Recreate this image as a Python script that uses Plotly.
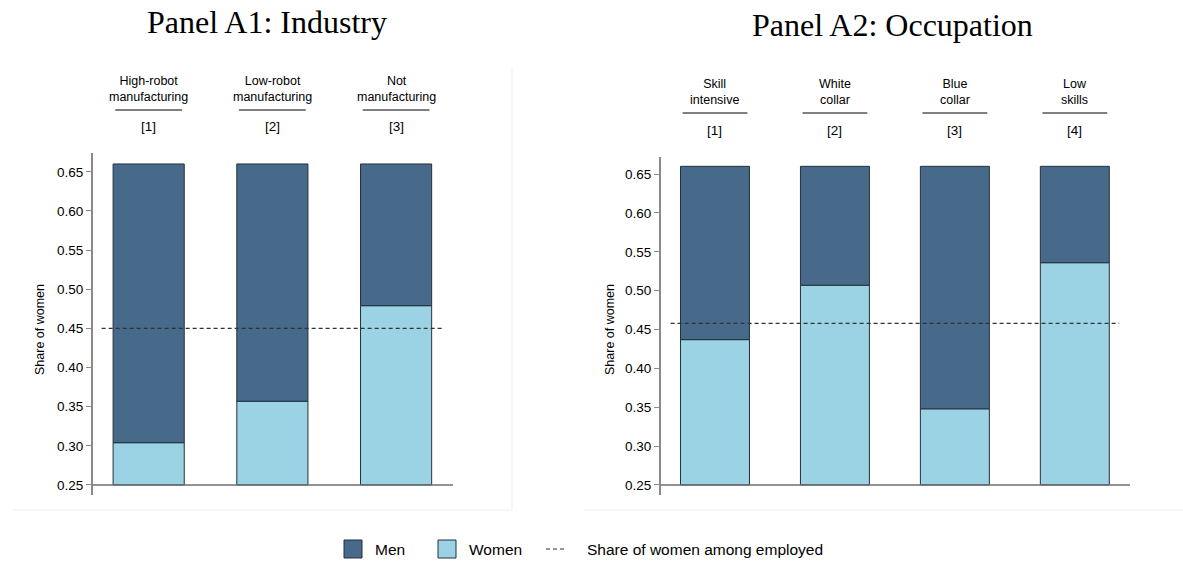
import plotly.graph_objects as go

# ---- data -------------------------------------------------------------
industry_labels = ["High-robot<br>manufacturing", "Low-robot<br>manufacturing", "Not<br>manufacturing"]
industry_cols = ["[1]", "[2]", "[3]"]
industry_women = [0.304, 0.357, 0.479]
industry_avg = 0.450

occupation_labels = ["Skill<br>intensive", "White<br>collar", "Blue<br>collar", "Low<br>skills"]
occupation_cols = ["[1]", "[2]", "[3]", "[4]"]
occupation_women = [0.437, 0.507, 0.348, 0.536]
occupation_avg = 0.458

y_ticks = [0.25, 0.30, 0.35, 0.40, 0.45, 0.50, 0.55, 0.60, 0.65]
y_floor = 0.25
y_cap = 0.66

# ---- style ------------------------------------------------------------
W, H = 1183, 563
MEN = "#486a8a"
WOMEN = "#9bd3e5"
EDGE = "#22313c"
AXIS = "#8a8a8a"
SANS = "Liberation Sans, Arial, sans-serif"
SERIF = "Liberation Serif, Times New Roman, serif"


def py(px):
    """pixel row -> paper y"""
    return 1 - px / H


fig = go.Figure()

panels = [
    dict(xa="x", ya="y", labels=industry_labels, cols=industry_cols,
         women=industry_women, avg=industry_avg, dx=0.38, hdr=0,
         title="Panel A1: Industry", tx=267, ty=22),
    dict(xa="x2", ya="y2", labels=occupation_labels, cols=occupation_cols,
         women=occupation_women, avg=occupation_avg, dx=0.37, hdr=3,
         title="Panel A2: Occupation", tx=892, ty=25),
]

annotations = []
shapes = []

for p in panels:
    n = len(p["women"])
    xs = list(range(n))
    women = p["women"]
    fig.add_trace(go.Bar(
        x=xs, y=[w - y_floor for w in women], base=[y_floor] * n,
        width=0.575, marker=dict(color=WOMEN, line=dict(color=EDGE, width=1)),
        xaxis=p["xa"], yaxis=p["ya"], showlegend=False, hoverinfo="skip"))
    fig.add_trace(go.Bar(
        x=xs, y=[y_cap - w for w in women], base=women,
        width=0.575, marker=dict(color=MEN, line=dict(color=EDGE, width=1)),
        xaxis=p["xa"], yaxis=p["ya"], showlegend=False, hoverinfo="skip"))
    fig.add_trace(go.Scatter(
        x=[-p["dx"], n - 1 + p["dx"]], y=[p["avg"], p["avg"]], mode="lines",
        line=dict(color="#333333", width=1.2, dash="4px,3px"),
        xaxis=p["xa"], yaxis=p["ya"], showlegend=False, hoverinfo="skip"))

    # baseline at the floor of the axis
    shapes.append(dict(type="line", xref=p["xa"] + " domain", x0=0, x1=1,
                       yref=p["ya"], y0=y_floor, y1=y_floor,
                       line=dict(color="#6e6e6e", width=1.5)))

    # column headers
    h = p["hdr"]
    for i, (lab, col) in enumerate(zip(p["labels"], p["cols"])):
        annotations.append(dict(x=i, xref=p["xa"], y=py(89 + h), yref="paper",
                                text=lab, showarrow=False, xanchor="center", yanchor="middle",
                                font=dict(family=SANS, size=12.5, color="black")))
        shapes.append(dict(type="line", xref=p["xa"], x0=i - 0.27, x1=i + 0.27,
                           yref="paper", y0=py(110 + h), y1=py(110 + h),
                           line=dict(color="black", width=1)))
        annotations.append(dict(x=i, xref=p["xa"], y=py(127 + h), yref="paper",
                                text=col, showarrow=False, xanchor="center", yanchor="middle",
                                font=dict(family=SANS, size=13.5, color="black")))

    annotations.append(dict(x=p["tx"] / W, xref="paper", y=py(p["ty"]), yref="paper",
                            text=p["title"], showarrow=False, xanchor="center",
                            yanchor="middle",
                            font=dict(family=SERIF, size=32, color="black")))

# y-axis titles
for xpx in (40, 610):
    annotations.append(dict(x=xpx / W, xref="paper", y=py(330), yref="paper",
                            text="Share of women", textangle=-90, showarrow=False,
                            xanchor="center", yanchor="middle",
                            font=dict(family=SANS, size=12.5, color="black")))

# faint panel frames
frame = dict(color="#edf1f1", width=1)
shapes += [
    dict(type="line", xref="paper", yref="paper", x0=512 / W, x1=512 / W,
         y0=py(67), y1=py(510), line=frame),
    dict(type="line", xref="paper", yref="paper", x0=13 / W, x1=512 / W,
         y0=py(510), y1=py(510), line=frame),
    dict(type="line", xref="paper", yref="paper", x0=584 / W, x1=1,
         y0=py(510), y1=py(510), line=frame),
]

# legend drawn below the panels
ly = py(549)
box_h = 18 / H
for x0, color, label, tx in ((344, MEN, "Men", 373), (438, WOMEN, "Women", 467)):
    shapes.append(dict(type="rect", xref="paper", yref="paper",
                       x0=x0 / W, x1=(x0 + 18) / W, y0=ly - box_h / 2, y1=ly + box_h / 2,
                       fillcolor=color, line=dict(color=EDGE, width=1)))
    annotations.append(dict(x=tx / W, xref="paper", y=ly, yref="paper", text=label,
                            showarrow=False, xanchor="left", yanchor="middle",
                            font=dict(family=SANS, size=15.5, color="black")))
shapes.append(dict(type="line", xref="paper", yref="paper", x0=546 / W, x1=567 / W,
                   y0=ly, y1=ly, line=dict(color="#333333", width=1.2, dash="4px,3px")))
annotations.append(dict(x=585 / W, xref="paper", y=ly, yref="paper",
                        text="Share of women among employed", showarrow=False,
                        xanchor="left", yanchor="middle",
                        font=dict(family=SANS, size=15.5, color="black")))

yaxis_style = dict(
    tickvals=y_ticks, tickformat=".2f", ticks="outside", ticklen=5, tickwidth=1.2,
    tickcolor=AXIS, showline=True, linecolor=AXIS, linewidth=2, showgrid=False,
    zeroline=False, tickfont=dict(family=SANS, size=13.5, color="black"),
)
xaxis_style = dict(visible=False, showgrid=False, zeroline=False)

fig.update_layout(
    width=W, height=H, margin=dict(l=0, r=0, t=0, b=0),
    paper_bgcolor="white", plot_bgcolor="white", barmode="overlay",
    xaxis=dict(xaxis_style, domain=[93 / W, 453 / W], range=[-0.45, 2.46], anchor="y"),
    yaxis=dict(yaxis_style, domain=[py(495), py(153)], range=[0.2372, 0.674], anchor="x"),
    xaxis2=dict(xaxis_style, domain=[661 / W, 1130 / W], range=[-0.45, 3.46], anchor="y2"),
    yaxis2=dict(yaxis_style, domain=[py(495), py(157)], range=[0.2371, 0.672], anchor="x2"),
    annotations=annotations, shapes=shapes, showlegend=False,
)

fig.write_html("out.html")
